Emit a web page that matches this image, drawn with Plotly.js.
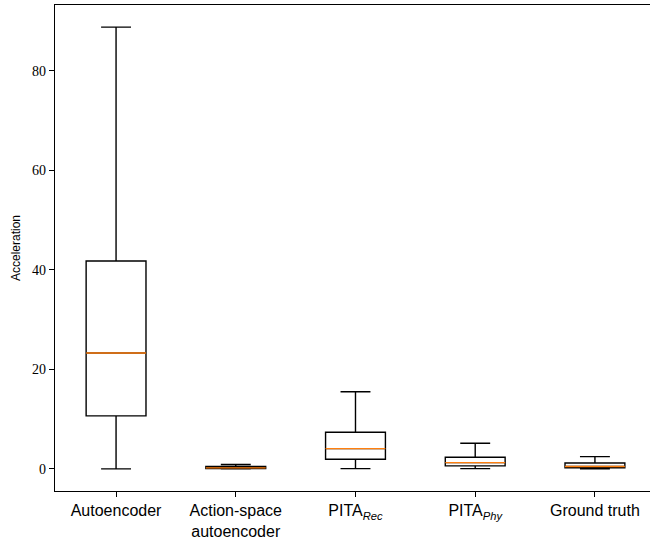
<!DOCTYPE html>
<html>
<head>
<meta charset="utf-8">
<script src="https://cdn.plot.ly/plotly-3.0.1.min.js"></script>
<style>html,body{margin:0;padding:0;background:#fff;}#chart{width:650px;height:540px;}</style>
</head>
<body>
<div id="chart"></div>
<script>
// Data
const categories = ["Autoencoder", "Action-space<br>autoencoder", "PITA<sub><i>Rec</i></sub>", "PITA<sub><i>Phy</i></sub>", "Ground truth"];
const lowerWhisker = [0.0, 0.0, 0.05, 0.05, 0.0];
const q1Values     = [10.65, 0.05, 1.95, 0.6, 0.2];
const medianValues = [23.3, 0.2, 4.08, 1.27, 0.47];
const q3Values     = [41.8, 0.5, 7.37, 2.34, 1.2];
const upperWhisker = [88.8, 0.9, 15.5, 5.16, 2.47];

const positions = categories.map((c, i) => i + 1);
const boxWidth = 0.5;

// boxes and whiskers (black)
const boxTrace = {
  type: 'box',
  x: positions,
  q1: q1Values,
  median: medianValues,
  q3: q3Values,
  lowerfence: lowerWhisker,
  upperfence: upperWhisker,
  width: boxWidth,
  whiskerwidth: 0.5,
  fillcolor: 'rgba(0,0,0,0)',
  line: {color: '#000000', width: 1.4},
  boxpoints: false,
  hoverinfo: 'skip',
  showlegend: false
};

// orange median lines: same box geometry collapsed onto the median
const medianTrace = {
  type: 'box',
  x: positions,
  q1: medianValues,
  median: medianValues,
  q3: medianValues,
  lowerfence: medianValues,
  upperfence: medianValues,
  width: boxWidth,
  whiskerwidth: 0,
  fillcolor: 'rgba(0,0,0,0)',
  line: {color: '#ff7f0e', width: 1.4},
  boxpoints: false,
  hoverinfo: 'skip',
  showlegend: false
};

const allMin = Math.min(...lowerWhisker), allMax = Math.max(...upperWhisker);
const pad = (allMax - allMin) * 0.05;

const layout = {
  width: 650, height: 540,
  margin: {l: 55, r: 0, t: 5, b: 49},
  paper_bgcolor: '#fff', plot_bgcolor: '#fff',
  boxmode: 'overlay',
  xaxis: {
    range: [0.49, 5.46],
    tickvals: positions, ticktext: categories,
    ticks: 'outside', ticklen: 5, tickwidth: 1, tickcolor: '#000',
    showline: true, linecolor: '#000', linewidth: 1.1, mirror: true,
    showgrid: false, zeroline: false,
    tickfont: {family: 'Liberation Sans, Arial, sans-serif', size: 16, color: '#000'}
  },
  yaxis: {
    range: [allMin - pad, allMax + pad],
    tickvals: [0, 20, 40, 60, 80],
    ticks: 'outside', ticklen: 5, tickwidth: 1, tickcolor: '#000',
    showline: true, linecolor: '#000', linewidth: 1.1, mirror: false,
    showgrid: false, zeroline: false,
    tickfont: {family: 'Liberation Serif, Times New Roman, serif', size: 14, color: '#000'},
    title: {text: 'Acceleration', font: {family: 'Liberation Sans, Arial, sans-serif', size: 12, color: '#000'}, standoff: 8}
  }
};

Plotly.newPlot('chart', [boxTrace, medianTrace], layout, {staticPlot: true});
</script>
</body>
</html>
